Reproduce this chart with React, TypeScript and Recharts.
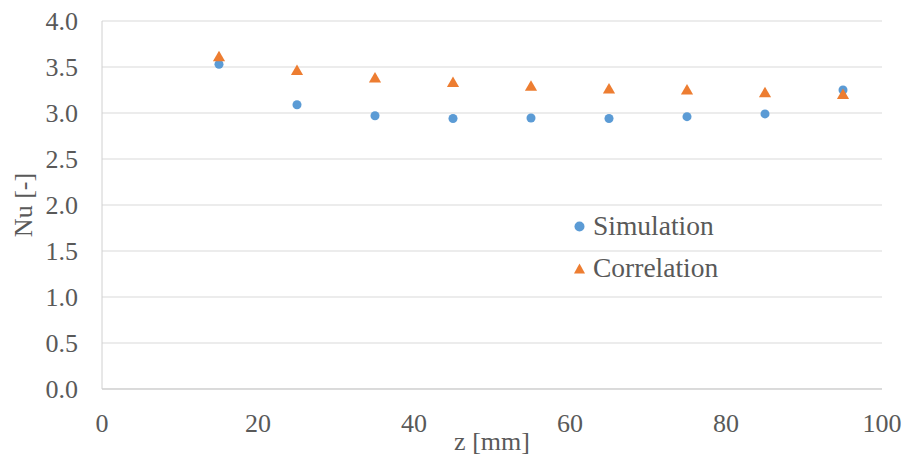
import { ScatterChart, Scatter, XAxis, YAxis, ZAxis, CartesianGrid, Legend, Label } from "recharts";

// z position along the channel [mm]
const zPositions = [15, 25, 35, 45, 55, 65, 75, 85, 95];
const simulationNu = [3.53, 3.09, 2.97, 2.94, 2.945, 2.94, 2.96, 2.99, 3.25];
const correlationNu = [3.6, 3.45, 3.37, 3.32, 3.28, 3.25, 3.24, 3.21, 3.19];

const seriesNames = ["Simulation", "Correlation"];
const xTicks = [0, 20, 40, 60, 80, 100];
const yTicks = [0, 0.5, 1, 1.5, 2, 2.5, 3, 3.5, 4];

const simulationData = zPositions.map((z, i) => ({ z, nu: simulationNu[i] }));
const correlationData = zPositions.map((z, i) => ({ z, nu: correlationNu[i] }));

const BLUE = "#5B9BD5";
const ORANGE = "#ED7D31";
const TEXT = "#595959";
const FONT = "'Liberation Serif', 'Times New Roman', serif";

interface LegendEntry {
    value?: string;
    color?: string;
    type?: string;
}

function LegendContent(props: { payload?: LegendEntry[] }) {
    // keep series order (recharts sorts legend items by name)
    const items = [...(props.payload || [])].sort(
        (a, b) => seriesNames.indexOf(a.value || "") - seriesNames.indexOf(b.value || "")
    );
    return (
        <div style={{ fontFamily: FONT, fontSize: 27.5, color: TEXT }}>
            {items.map((item) => (
                <div key={item.value} style={{ display: "flex", alignItems: "center", height: 42 }}>
                    <svg width={11} height={11} style={{ marginRight: 8 }}>
                        {item.type === "triangle" ? (
                            <polygon points="5.5,0.5 11,10.5 0,10.5" fill={item.color} />
                        ) : (
                            <circle cx={5.5} cy={5.5} r={5} fill={item.color} />
                        )}
                    </svg>
                    <span>{item.value}</span>
                </div>
            ))}
        </div>
    );
}

export default function App() {
    return (
        <div style={{ position: "absolute", left: 0, top: 0, background: "#fff" }}>
            <ScatterChart width={904} height={457} margin={{ top: 21, right: 22, bottom: 0, left: 0 }}>
                <CartesianGrid vertical={false} stroke="#D9D9D9" />
                <XAxis
                    type="number"
                    dataKey="z"
                    domain={[0, 100]}
                    ticks={xTicks}
                    height={68}
                    tickLine={false}
                    tickSize={0}
                    tickMargin={25}
                    axisLine={{ stroke: "#C9C9C9" }}
                    tick={{ fill: TEXT, fontSize: 26, fontFamily: FONT }}
                >
                    <Label value="z [mm]" position="insideBottom" offset={7} fill={TEXT} fontSize={26} fontFamily={FONT} />
                </XAxis>
                <YAxis
                    type="number"
                    dataKey="nu"
                    domain={[0, 4]}
                    ticks={yTicks}
                    width={102}
                    tickLine={false}
                    tickSize={0}
                    tickMargin={24}
                    axisLine={{ stroke: "#D0D0D0" }}
                    tickFormatter={(v: number) => v.toFixed(1)}
                    tick={{ fill: TEXT, fontSize: 26, fontFamily: FONT }}
                >
                    <Label
                        value="Nu [-]"
                        angle={-90}
                        position="insideLeft"
                        offset={23}
                        fill={TEXT}
                        fontSize={26}
                        fontFamily={FONT}
                        style={{ textAnchor: "middle" }}
                    />
                </YAxis>
                <ZAxis zAxisId="sim" range={[108, 108]} />
                <ZAxis zAxisId="corr" range={[64, 64]} />
                <Legend
                    layout="vertical"
                    align="center"
                    verticalAlign="middle"
                    content={<LegendContent />}
                    wrapperStyle={{ left: 574, top: 205, width: "auto" }}
                />
                <Scatter
                    name="Simulation"
                    data={simulationData}
                    fill={BLUE}
                    shape="circle"
                    legendType="circle"
                    zAxisId="sim"
                    isAnimationActive={false}
                />
                <Scatter
                    name="Correlation"
                    data={correlationData}
                    fill={ORANGE}
                    shape="triangle"
                    legendType="triangle"
                    zAxisId="corr"
                    isAnimationActive={false}
                />
            </ScatterChart>
        </div>
    );
}
